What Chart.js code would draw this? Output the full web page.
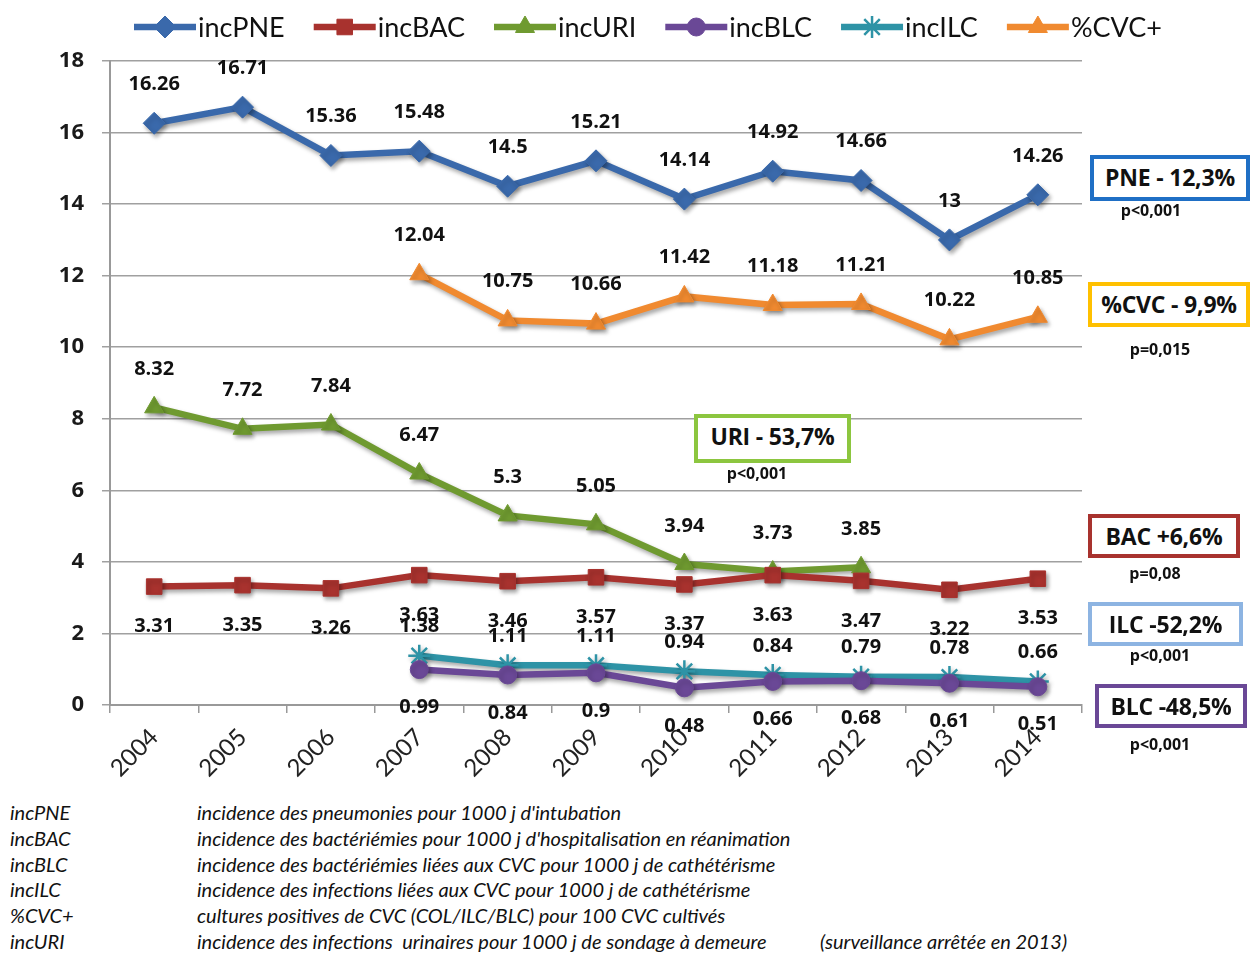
<!DOCTYPE html>
<html>
<head>
<meta charset="utf-8">
<script src="https://cdn.jsdelivr.net/npm/chart.js@4/dist/chart.umd.min.js"></script>
<style>
  body { margin:0; background:#fff; width:1254px; height:956px; overflow:hidden; position:relative; font-family: Lato, "Open Sans", sans-serif; }
  #wrap { position:absolute; left:0; top:0; width:1254px; height:790px; }
  .box { position:absolute; background:#fff; box-sizing:border-box; font-family:"Open Sans", sans-serif; font-weight:bold; font-size:23px; color:#111; text-align:center; line-height:37px; letter-spacing:-0.2px; white-space:nowrap; }
  .p { position:absolute; font-family:"Open Sans", sans-serif; font-weight:bold; font-size:16px; color:#111; text-align:center; width:120px; }
  .fn { position:absolute; font-family:Lato, sans-serif; font-style:italic; font-size:20px; color:#111; white-space:nowrap; }
</style>
</head>
<body>
<div id="wrap"><canvas id="c"></canvas></div>

<div class="box" style="left:1090px;top:155px;width:160px;height:46px;border:4px solid #1f6fc5;">PNE - 12,3%</div>
<div class="p" style="left:1091px;top:199px;">p&lt;0,001</div>
<div class="box" style="left:1088px;top:282px;width:162px;height:45px;border:4px solid #ffc000;">%CVC - 9,9%</div>
<div class="p" style="left:1100px;top:338px;">p=0,015</div>
<div class="box" style="left:694px;top:414px;width:157px;height:49px;border:4px solid #8cc63f;">URI - 53,7%</div>
<div class="p" style="left:697px;top:462px;">p&lt;0,001</div>
<div class="box" style="left:1088px;top:514px;width:152px;height:44px;border:4px solid #a8322e;">BAC +6,6%</div>
<div class="p" style="left:1095px;top:562px;">p=0,08</div>
<div class="box" style="left:1088px;top:602px;width:155px;height:44px;border:4px solid #8db4e2;">ILC -52,2%</div>
<div class="p" style="left:1100px;top:644px;">p&lt;0,001</div>
<div class="box" style="left:1095px;top:684px;width:152px;height:44px;border:4px solid #6a4896;">BLC -48,5%</div>
<div class="p" style="left:1100px;top:733px;">p&lt;0,001</div>

<div id="notes"></div>

<script>
const years = ['2004','2005','2006','2007','2008','2009','2010','2011','2012','2013','2014'];
const incPNE = [16.26, 16.71, 15.36, 15.48, 14.5, 15.21, 14.14, 14.92, 14.66, 13, 14.26];
const incBAC = [3.31, 3.35, 3.26, 3.63, 3.46, 3.57, 3.37, 3.63, 3.47, 3.22, 3.53];
const incURI = [8.32, 7.72, 7.84, 6.47, 5.3, 5.05, 3.94, 3.73, 3.85, null, null];
const incBLC = [null, null, null, 0.99, 0.84, 0.9, 0.48, 0.66, 0.68, 0.61, 0.51];
const incILC = [null, null, null, 1.38, 1.11, 1.11, 0.94, 0.84, 0.79, 0.78, 0.66];
const pctCVC = [null, null, null, 12.04, 10.75, 10.66, 11.42, 11.18, 11.21, 10.22, 10.85];
const yTicks = [0, 2, 4, 6, 8, 10, 12, 14, 16, 18];

const noteKeys = ['incPNE','incBAC','incBLC','incILC','%CVC+','incURI'];
const noteTexts = [
  "incidence des pneumonies pour 1000 j d'intubation",
  "incidence des bactériémies pour 1000 j d'hospitalisation en réanimation",
  "incidence des bactériémies liées aux CVC pour 1000 j de cathétérisme",
  "incidence des infections liées aux CVC pour 1000 j de cathétérisme",
  "cultures positives de CVC (COL/ILC/BLC) pour 100 CVC cultivés",
  "incidence des infections  urinaires pour 1000 j de sondage à demeure"
];

// footnotes
const notes = document.getElementById('notes');
noteKeys.forEach((k, i) => {
  const top = 800 + i * 25.8;
  const a = document.createElement('div'); a.className = 'fn'; a.style.left = '10px'; a.style.top = top + 'px'; a.textContent = k; notes.appendChild(a);
  const b = document.createElement('div'); b.className = 'fn'; b.style.left = '197px'; b.style.top = top + 'px'; b.textContent = noteTexts[i].replace(/  /g, '\u00a0 '); notes.appendChild(b);
});
const extra = document.createElement('div'); extra.className = 'fn'; extra.style.left = '820px'; extra.style.top = (800 + 5 * 25.8) + 'px'; extra.textContent = '(surveillance arrêtée en 2013)'; notes.appendChild(extra);

function ds(label, data, color, pointStyle, radius, labelOffset) {
  return {
    label, data, borderColor: color, backgroundColor: color,
    borderWidth: 6.5, pointStyle, pointRadius: radius, pointHoverRadius: radius,
    pointBorderColor: color, pointBackgroundColor: color,
    pointBorderWidth: pointStyle === 'star' ? 2.5 : 1,
    spanGaps: false, tension: 0, labelOffset
  };
}

const datasets = [
  ds('incPNE', incPNE, '#3a69ab', 'rectRot', 11, -39),
  ds('incBAC', incBAC, '#a8322e', 'rect', 11, 40),
  ds('incURI', incURI, '#6f9a30', 'triangle', 11, -38),
  ds('incBLC', incBLC, '#6a4896', 'circle', 9, 38),
  ds('incILC', incILC, '#2e93a6', 'star', 11, -29),
  ds('%CVC+', pctCVC, '#f08a30', 'triangle', 11, -39)
];

const shadowPlugin = {
  id: 'shadow',
  beforeDatasetDraw(chart) {
    const ctx = chart.ctx; ctx.save();
    ctx.shadowColor = 'rgba(0,0,0,0.35)'; ctx.shadowBlur = 4; ctx.shadowOffsetX = 2; ctx.shadowOffsetY = 3;
  },
  afterDatasetDraw(chart) { chart.ctx.restore(); }
};

const labelPlugin = {
  id: 'valueLabels',
  afterDatasetsDraw(chart) {
    const ctx = chart.ctx;
    ctx.save();
    ctx.font = 'bold 20px "Open Sans", sans-serif';
    ctx.fillStyle = '#111';
    ctx.textAlign = 'center';
    ctx.textBaseline = 'middle';
    chart.data.datasets.forEach((d, i) => {
      const meta = chart.getDatasetMeta(i);
      meta.data.forEach((el, j) => {
        const v = d.data[j];
        if (v === null || v === undefined) return;
        ctx.fillText(String(v), el.x, el.y + d.labelOffset);
      });
    });
    ctx.restore();
  }
};

const legendPlugin = {
  id: 'customLegend',
  afterDraw(chart) {
    const ctx = chart.ctx;
    ctx.save();
    ctx.font = '27px Lato, sans-serif';
    const lineLen = 62, gapAfter = 29;
    const items = chart.data.datasets.map(d => ({ d, w: ctx.measureText(d.label).width }));
    const total = items.reduce((s, it) => s + lineLen + 2 + it.w + gapAfter, 0) - gapAfter;
    let x = 648 - total / 2;
    const y = 27;
    items.forEach(it => {
      const d = it.d;
      ctx.strokeStyle = d.borderColor; ctx.lineWidth = 6.5; ctx.lineCap = 'butt';
      ctx.beginPath(); ctx.moveTo(x, y); ctx.lineTo(x + lineLen, y); ctx.stroke();
      ctx.fillStyle = d.backgroundColor; ctx.strokeStyle = d.borderColor;
      ctx.lineWidth = d.pointBorderWidth;
      Chart.helpers.drawPoint(ctx, { pointStyle: d.pointStyle, radius: d.pointRadius, borderWidth: d.pointBorderWidth, rotation: 0 }, x + lineLen / 2, y);
      ctx.fillStyle = '#111'; ctx.textAlign = 'left'; ctx.textBaseline = 'middle';
      ctx.fillText(d.label, x + lineLen + 2, y + 1);
      x += lineLen + 2 + it.w + gapAfter;
    });
    ctx.restore();
  }
};

new Chart(document.getElementById('c'), {
  type: 'line',
  data: { labels: years, datasets },
  plugins: [shadowPlugin, labelPlugin, legendPlugin],
  options: {
    responsive: true, maintainAspectRatio: false, animation: false,
    layout: { padding: { top: 61, right: 172, left: 0, bottom: 0 } },
    plugins: { legend: { display: false }, tooltip: { enabled: false } },
    scales: {
      x: {
        offset: true,
        afterFit(scale) { scale.height = 85; },
        grid: { display: true, drawOnChartArea: false, offset: true, tickLength: 8, color: '#999', lineWidth: 1.5 },
        border: { display: true, color: '#999', width: 2 },
        ticks: { minRotation: 45, maxRotation: 45, font: { family: 'Lato, sans-serif', size: 24 }, color: '#222', padding: 10 }
      },
      y: {
        min: 0, max: 18,
        afterFit(scale) { scale.width = 110; },
        afterBuildTicks(scale) { scale.ticks = yTicks.map(v => ({ value: v })); },
        grid: { color: '#a0a0a0', lineWidth: 1.5, tickLength: 8, drawTicks: true },
        border: { display: true, color: '#999', width: 2 },
        ticks: { font: { family: '"Open Sans", sans-serif', size: 22, weight: 'bold' }, color: '#1a1a1a', padding: 18 }
      }
    }
  }
});
</script>
</body>
</html>
